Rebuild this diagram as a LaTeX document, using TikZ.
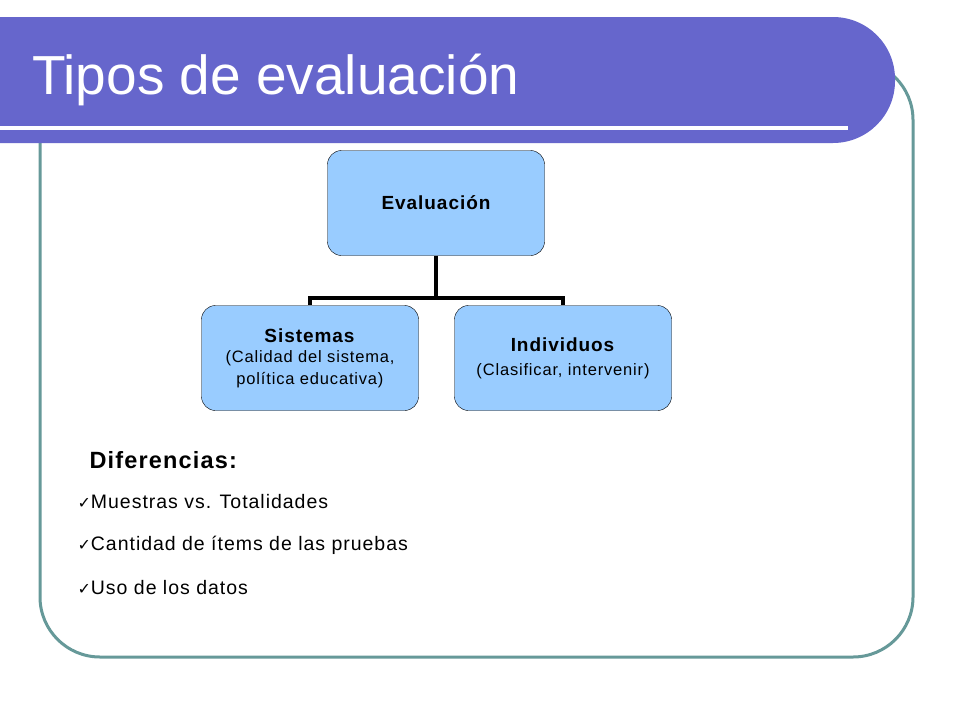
\documentclass[tikz,border=0pt]{standalone}
\usepackage{fontspec}
\setmainfont{Liberation Sans}
\newfontfamily\djv{DejaVu Sans}
\definecolor{titlebar}{RGB}{102,102,204}
\definecolor{frame}{RGB}{102,153,153}
\definecolor{boxfill}{RGB}{153,204,255}
\newcommand{\ls}{\addfontfeature{LetterSpace=5}}
\begin{document}
\begin{tikzpicture}[x=1pt,y=-1pt,
  orgbox/.style={draw=black,fill=boxfill,rounded corners=14pt,minimum width=217pt,minimum height=105pt,align=center,inner sep=2pt},
  conn/.style={line width=4.5pt},
  bullet/.style={anchor=west,font=\fontsize{19.5}{24}\selectfont\ls}]
\useasboundingbox (0,0) rectangle (960,720);
\fill[white] (0,0) rectangle (960,720);
\draw[frame,line width=3pt,rounded corners=60pt] (40,60) rectangle (913,657);
\fill[titlebar,rounded corners=62pt] (-80,17) rectangle (895,143);
\fill[titlebar] (0,17) rectangle (100,143);
\fill[white] (0,126) rectangle (848,130);
\node[anchor=base west,text=white,font=\fontsize{55}{62}\selectfont,inner sep=0] (title) at (32,94) {Tipos de evaluación};
\node[orgbox,font=\fontsize{19}{22}\selectfont\bfseries\ls] (ev) at (436,203) {Evaluación};
\node[orgbox,font=\fontsize{19}{22}\selectfont\ls] (si) at (310,358) {\textbf{Sistemas}\\[-2pt]{\fontsize{16.5}{20}\selectfont(Calidad del sistema,}\\{\fontsize{16.5}{20}\selectfont política educativa)}};
\node[orgbox,font=\fontsize{19}{22}\selectfont\ls] (in) at (563,358) {\textbf{Individuos}\\[2pt]{\fontsize{16.5}{20}\selectfont(Clasificar, intervenir)}};
\coordinate (j) at (436,298);
\draw[conn] (ev.south) -- (j);
\draw[conn,line cap=rect] (si.north |- j) -- (in.north |- j);
\draw[conn] (si.north |- j) -- (si.north);
\draw[conn] (in.north |- j) -- (in.north);
\node[anchor=west,font=\fontsize{23.5}{28}\selectfont\bfseries\ls] (dif) at (86,460) {Diferencias:};
\node[bullet] (b1) at (74,502) {{\djv\fontsize{16}{18}\selectfont ✓}Muestras vs. Totalidades};
\node[bullet] (b2) at (74,545) {{\djv\fontsize{16}{18}\selectfont ✓}Cantidad de ítems de las pruebas};
\node[bullet] (b3) at (74,588) {{\djv\fontsize{16}{18}\selectfont ✓}Uso de los datos};
\end{tikzpicture}
\end{document}
